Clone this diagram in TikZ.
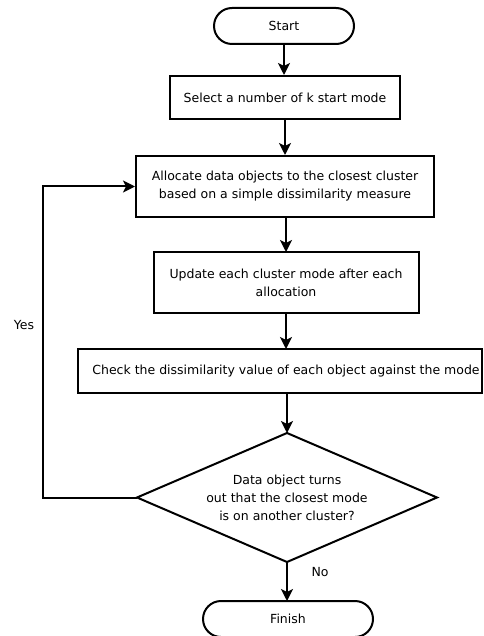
\documentclass[tikz,border=0pt]{standalone}
\usepackage{fontspec}
\setmainfont{DejaVu Sans}
\usetikzlibrary{arrows.meta,shapes.geometric,shapes.misc}
\begin{document}
\begin{tikzpicture}[x=1pt,y=-1pt,
  line width=2pt,
  font=\fontsize{12.5}{18}\selectfont,
  arr/.style={-{Stealth[length=12pt,width=12pt,inset=3pt]}},
  term/.style={draw,rounded rectangle,minimum width=140pt,minimum height=36pt,inner sep=0pt},
  proc/.style={draw,rectangle,align=center,inner sep=0pt},
  lbl/.style={inner sep=0pt}]
\useasboundingbox (0,0) rectangle (483,636);
\node[term] (start) at (284,26) {Start};
\node[proc,minimum width=230pt,minimum height=43pt] (sel) at (285,97.5) {Select a number of k start mode};
\node[proc,minimum width=298pt,minimum height=61pt] (alloc) at (285,186.5) {Allocate data objects to the closest cluster\\based on a simple dissimilarity measure};
\node[proc,minimum width=265pt,minimum height=61pt] (upd) at (286,282.5) {Update each cluster mode after each\\allocation};
\node[proc,minimum width=404pt,minimum height=44pt] (chk) at (280,371) {\hspace*{12pt}Check the dissimilarity value of each object against the mode};
\coordinate (dT) at (287,433);
\coordinate (dL) at (137,497.5);
\coordinate (dR) at (437,497.5);
\coordinate (dB) at (287,562);
\draw (dT) -- (dR) -- (dB) -- (dL) -- cycle;
\node[align=center,inner sep=0pt] (dec) at (287,498) {Data object turns\\out that the closest mode\\is on another cluster?};
\node[term,minimum width=170pt] (fin) at (288,619) {Finish};
\coordinate (loop) at (43,497.5);
\draw[arr] (start.south) -- (start.south |- sel.north);
\draw[arr] (sel.south) -- (sel.south |- alloc.north);
\draw[arr] (286,217) -- (286,252);
\draw[arr] (286,313) -- (286,349);
\draw[arr] (287,393) -- (dT);
\draw[arr] (dB) -- (287,601);
\draw[arr] (dL) -- (loop) |- (alloc.west);
\node[lbl] (yes) at (24,325) {Yes};
\node[lbl] (no) at (320,572) {No};
\end{tikzpicture}
\end{document}
